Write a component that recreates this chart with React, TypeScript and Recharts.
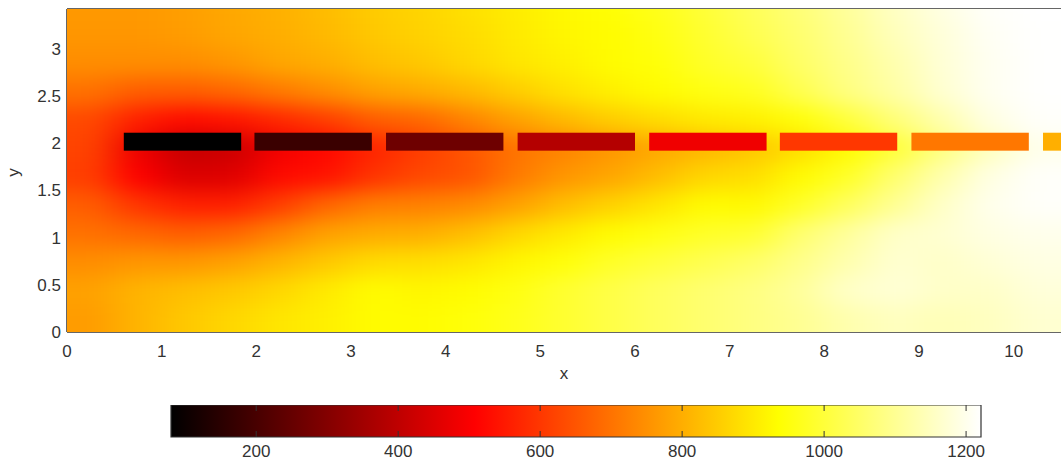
import React from "react";
import {
  Label,
  ReferenceArea,
  ReferenceLine,
  Scatter,
  ScatterChart,
  XAxis,
  YAxis,
} from "recharts";

const xCenters = [0.25, 0.75, 1.25, 1.75, 2.25, 2.75, 3.25, 3.75, 4.25, 4.75, 5.25, 5.75, 6.25, 6.75, 7.25, 7.75, 8.25, 8.75, 9.25, 9.75, 10.25];
const yCenters = [0.15, 0.45, 0.75, 1.05, 1.35, 1.65, 1.95, 2.25, 2.55, 2.85, 3.15, 3.45];

const row015 = [770, 810, 843, 868, 893, 910, 930, 930, 945, 965, 990, 1015, 1040, 1060, 1080, 1100, 1130, 1150, 1140, 1150, 1170];
const row045 = [778, 810, 826, 843, 868, 900, 930, 920, 930, 955, 990, 1015, 1040, 1060, 1080, 1110, 1160, 1175, 1160, 1160, 1180];
const row075 = [745, 760, 760, 778, 810, 843, 875, 880, 893, 920, 945, 980, 1003, 1025, 1050, 1090, 1130, 1170, 1160, 1175, 1190];
const row105 = [697, 680, 664, 680, 729, 778, 795, 800, 826, 868, 900, 930, 955, 980, 990, 1060, 1110, 1160, 1170, 1190, 1200];
const row135 = [664, 596, 560, 560, 612, 680, 720, 725, 740, 778, 826, 860, 893, 930, 925, 980, 1040, 1100, 1160, 1200, 1215];
const row165 = [612, 508, 447, 455, 525, 540, 595, 630, 648, 712, 760, 786, 826, 868, 880, 930, 980, 1060, 1130, 1190, 1215];
const row195 = [620, 480, 410, 420, 490, 520, 570, 610, 650, 700, 730, 760, 790, 815, 840, 880, 930, 1000, 1080, 1150, 1200];
const row225 = [630, 560, 525, 540, 575, 612, 664, 680, 729, 778, 818, 852, 877, 900, 910, 945, 1003, 1070, 1130, 1190, 1215];
const row255 = [697, 664, 664, 680, 712, 745, 778, 795, 818, 852, 885, 910, 930, 955, 970, 1025, 1080, 1120, 1170, 1205, 1220];
const row285 = [745, 745, 745, 760, 786, 800, 826, 843, 868, 893, 910, 930, 945, 980, 1003, 1050, 1090, 1130, 1175, 1205, 1220];
const row315 = [760, 760, 770, 786, 800, 818, 843, 860, 877, 900, 920, 930, 955, 990, 1025, 1060, 1100, 1145, 1180, 1210, 1220];
const row345 = [765, 765, 775, 790, 805, 825, 850, 865, 885, 905, 925, 940, 965, 1000, 1035, 1070, 1110, 1155, 1190, 1215, 1221];
const fieldRows = [row015, row045, row075, row105, row135, row165, row195, row225, row255, row285, row315, row345];

// the dashed source line at y = 2
const dashStarts = [0.6, 1.98, 3.37, 4.76, 6.15, 7.53, 8.92, 10.31];
const dashValues = [80, 177, 264, 382, 483, 600, 708, 801];
const dashLength = 1.24;
const dashY = 2.015;
const dashHeight = 0.19;

const xTicks = [0, 1, 2, 3, 4, 5, 6, 7, 8, 9, 10];
const yTicks = [0, 0.5, 1, 1.5, 2, 2.5, 3];
const cbTicks = [200, 400, 600, 800, 1000, 1200];

const X_MAX = 10.5;
const Y_MAX = 3.42;
const C_MIN = 80;
const C_MAX = 1221;

const W = 1061;
const PLOT_LEFT = 67;
const PLOT_TOP = 9;
const PLOT_BOTTOM = 332;
const PX_X = (W - PLOT_LEFT) / X_MAX;
const PX_Y = (PLOT_BOTTOM - PLOT_TOP) / Y_MAX;
const CELL_W = 0.5;
const CELL_H = 0.3;
const CB_LEFT = 171;
const CB_RIGHT = 981;
const CB_H = 32;

const TEXT = "#333";
const FONT = "'Liberation Sans', Arial, sans-serif";

function hot(v: number) {
  const t = Math.min(1, Math.max(0, (v - C_MIN) / (C_MAX - C_MIN)));
  const r = Math.min(1, t / 0.375);
  const g = Math.min(1, Math.max(0, (t - 0.375) / 0.375));
  const b = Math.max(0, (t - 0.75) / 0.25);
  return `rgb(${Math.round(r * 255)},${Math.round(g * 255)},${Math.round(b * 255)})`;
}

const heatCells = fieldRows.flatMap((row, r) =>
  row.map((v, c) => ({ x: xCenters[c], y: yCenters[r], v, r, c }))
);

const dashes = dashStarts.map((s, i) => ({
  x: s + dashLength / 2,
  y: dashY,
  v: dashValues[i],
}));

const cbMarks = cbTicks.map((v) => ({ x: v, y: 0 }));

function HeatCell(props: any) {
  const { cx, cy, payload } = props;
  const w = CELL_W * PX_X;
  const h = CELL_H * PX_Y;
  let x0 = cx - w / 2 - 0.5;
  let x1 = cx + w / 2 + 0.5;
  let y0 = cy - h / 2 - 0.5;
  let y1 = cy + h / 2 + 0.5;
  // stretch border cells so the blur does not fade at the frame
  if (payload.c === 0) x0 -= 60;
  if (payload.c === xCenters.length - 1) x1 += 60;
  if (payload.r === 0) y1 += 60;
  if (payload.r === yCenters.length - 1) y0 -= 60;
  return <rect x={x0} y={y0} width={x1 - x0} height={y1 - y0} fill={hot(payload.v)} />;
}

function DashCell(props: any) {
  const { cx, cy, payload } = props;
  const w = dashLength * PX_X;
  const h = dashHeight * PX_Y;
  return <rect x={cx - w / 2} y={cy - h / 2} width={w} height={h} fill={hot(payload.v)} />;
}

// inward tick marks on the bottom and top edge of the colour bar
function CbTick(props: any) {
  const { cx, cy } = props;
  return (
    <g stroke={TEXT} strokeWidth={1}>
      <line x1={cx} x2={cx} y1={cy} y2={cy - 6} />
      <line x1={cx} x2={cx} y1={cy - CB_H} y2={cy - CB_H + 6} />
    </g>
  );
}

function YLabel({ viewBox }: any) {
  const x = (viewBox?.x ?? 0) + 13;
  const y = (viewBox?.y ?? PLOT_TOP) + (viewBox?.height ?? 323) / 2 + 2;
  return (
    <text
      x={x}
      y={y}
      transform={`rotate(-90 ${x} ${y})`}
      textAnchor="middle"
      dominantBaseline="central"
      fill={TEXT}
      fontSize={17}
      fontFamily={FONT}
    >
      y
    </text>
  );
}

export default function App() {
  return (
    <div
      style={{
        position: "absolute",
        left: 0,
        top: 0,
        width: W,
        height: 462,
        overflow: "hidden",
        background: "#fff",
        fontFamily: FONT,
      }}
    >
      <style>{`.heat-layer { filter: url(#heatBlur); }`}</style>
      <ScatterChart width={W} height={390} margin={{ top: PLOT_TOP, right: 0, bottom: 8, left: 0 }}>
        <defs>
          <filter id="heatBlur" x="-10%" y="-20%" width="120%" height="140%" colorInterpolationFilters="sRGB">
            <feGaussianBlur stdDeviation="18 10" />
          </filter>
        </defs>
        <XAxis
          type="number"
          dataKey="x"
          domain={[0, X_MAX]}
          ticks={xTicks}
          allowDataOverflow
          height={50}
          tickLine={false}
          tickSize={10}
          tickMargin={3}
          axisLine={{ stroke: TEXT, strokeWidth: 1.5 }}
          tick={{ fill: TEXT, fontSize: 17, fontFamily: FONT }}
          label={{ value: "x", position: "insideBottom", offset: 3, fill: TEXT, fontSize: 17, fontFamily: FONT }}
        />
        <YAxis
          type="number"
          dataKey="y"
          domain={[0, Y_MAX]}
          ticks={yTicks}
          allowDataOverflow
          width={PLOT_LEFT}
          tickLine={false}
          tickSize={4}
          tickMargin={2}
          axisLine={{ stroke: TEXT, strokeWidth: 1.5 }}
          tick={{ fill: TEXT, fontSize: 17, fontFamily: FONT }}
          label={<Label content={<YLabel />} />}
        />
        <Scatter className="heat-layer" data={heatCells} shape={<HeatCell />} isAnimationActive={false} />
        <Scatter data={dashes} shape={<DashCell />} isAnimationActive={false} />
        <ReferenceLine y={Y_MAX} stroke={TEXT} strokeWidth={1.5} />
      </ScatterChart>

      <div style={{ position: "absolute", left: 0, top: 405 }}>
        <ScatterChart
          width={W}
          height={57}
          margin={{ top: 0, right: W - CB_RIGHT, bottom: 0, left: CB_LEFT }}
        >
          <defs>
            <linearGradient id="hotGrad" x1="0" y1="0" x2="1" y2="0">
              <stop offset="0%" stopColor="#000000" />
              <stop offset="37.5%" stopColor="#ff0000" />
              <stop offset="75%" stopColor="#ffff00" />
              <stop offset="100%" stopColor="#ffffff" />
            </linearGradient>
          </defs>
          <XAxis
            type="number"
            dataKey="x"
            domain={[C_MIN, C_MAX]}
            ticks={cbTicks}
            height={25}
            tickLine={false}
            axisLine={false}
            tickSize={5}
            tickMargin={3}
            tick={{ fill: TEXT, fontSize: 17, fontFamily: FONT }}
          />
          <YAxis type="number" dataKey="y" domain={[0, 1]} width={0} hide />
          <ReferenceArea
            x1={C_MIN}
            x2={C_MAX}
            y1={0}
            y2={1}
            fill="url(#hotGrad)"
            fillOpacity={1}
            stroke={TEXT}
            strokeWidth={1.2}
            ifOverflow="visible"
          />
          <Scatter data={cbMarks} shape={<CbTick />} isAnimationActive={false} />
        </ScatterChart>
      </div>
    </div>
  );
}
